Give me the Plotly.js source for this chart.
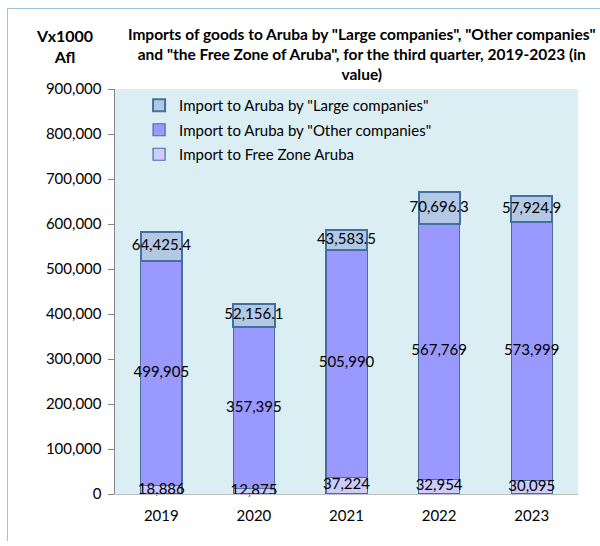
<!DOCTYPE html>
<html>
<head>
<meta charset="utf-8">
<script src="https://cdn.plot.ly/plotly-3.0.1.min.js"></script>
<style>
html,body{margin:0;padding:0;background:#fff;}
#frame{position:absolute;left:7px;top:8px;width:600px;height:532px;border-top:1.5px solid #9DC3E6;border-left:1.5px solid #9DC3E6;pointer-events:none;z-index:5;}
#chart{width:600px;height:546px;}
</style>
</head>
<body>
<div id="frame"></div>
<div id="chart"></div>
<script>
var years = ['2019', '2020', '2021', '2022', '2023'];
var freeZone = [18886, 12875, 37224, 32954, 30095];
var otherCompanies = [499905, 357395, 505990, 567769, 573999];
var largeCompanies = [64425.4, 52156.1, 43583.5, 70696.3, 57924.9];
var freeLabels = ['18,886', '12,875', '37,224', '32,954', '30,095'];
var otherLabels = ['499,905', '357,395', '505,990', '567,769', '573,999'];
var largeLabels = ['64,425.4', '52,156.1', '43,583.5', '70,696.3', '57,924.9'];

var FONT = 'Lato, "Open Sans", sans-serif';

var freeMid = freeZone.map(function(v){return v/2;});
var otherMid = otherCompanies.map(function(v,i){return freeZone[i] + v/2;});
var largeMid = largeCompanies.map(function(v,i){return freeZone[i] + otherCompanies[i] + v/2;});

var traces = [
  {type:'bar', x:years, y:freeZone, name:'Import to Free Zone Aruba', legendgroup:'c', legendrank:3,
   marker:{color:'#CCCCFF', line:{color:'#4A6E96', width:1.2}}, width:0.445, hoverinfo:'y'},
  {type:'bar', x:years, y:otherCompanies, name:'Import to Aruba by "Other companies"', legendgroup:'b', legendrank:2,
   marker:{color:'#9999FF', line:{color:'#4A6E96', width:1.2}}, width:0.445, hoverinfo:'y'},
  {type:'bar', x:years, y:largeCompanies, name:'Import to Aruba by "Large companies"', legendgroup:'a', legendrank:1,
   marker:{color:'#B3C8E4', line:{color:'#41719C', width:2}}, width:0.445, hoverinfo:'y'},
  {type:'scatter', mode:'text', x:years, y:freeMid, text:freeLabels, showlegend:false, hoverinfo:'skip',
   textfont:{family:FONT, size:15, color:'#000'}, cliponaxis:false},
  {type:'scatter', mode:'text', x:years, y:otherMid, text:otherLabels, showlegend:false, hoverinfo:'skip',
   textfont:{family:FONT, size:15, color:'#000'}, cliponaxis:false},
  {type:'scatter', mode:'text', x:years, y:largeMid, text:largeLabels, showlegend:false, hoverinfo:'skip',
   textfont:{family:FONT, size:15, color:'#000'}, cliponaxis:false}
];

var layout = {
  width:600, height:546,
  margin:{l:115, r:22, t:89, b:52},
  paper_bgcolor:'#ffffff',
  plot_bgcolor:'#DAEEF3',
  barmode:'stack',
  showlegend:true,
  font:{family:FONT, size:15, color:'#000'},
  title:{text:'<b>Imports of goods to Aruba by "Large companies", "Other companies"<br>and "the Free Zone of Aruba", for the third quarter, 2019-2023 (in<br>value)</b>',
         font:{family:FONT, size:15.5, color:'#000'}, x:0.603, xanchor:'center', y:0.927, yanchor:'top'},
  legend:{x:0.052, y:1.0, xanchor:'left', yanchor:'top', bgcolor:'rgba(0,0,0,0)',
          traceorder:'grouped', font:{family:FONT, size:15, color:'#000'}, tracegroupgap:2},
  xaxis:{type:'category', showgrid:false, showline:true, linecolor:'#BFBFBF', linewidth:1,
         ticks:'', ticklabelstandoff:8, tickfont:{family:FONT, size:15, color:'#000'}, fixedrange:true},
  yaxis:{range:[0,900000], dtick:100000, tickformat:',d', showgrid:false, zeroline:false,
         showline:true, linecolor:'#868686', linewidth:1.5, ticks:'outside', ticklen:6, tickcolor:'#868686',
         ticklabelstandoff:3, tickfont:{family:FONT, size:15, color:'#000'}, fixedrange:true},
  annotations:[
    {text:'<b>Vx1000<br>Afl</b>', xref:'paper', yref:'paper', x:-0.108, y:1.16, xanchor:'center', yanchor:'top',
     showarrow:false, font:{family:FONT, size:16, color:'#000'}, align:'center'}
  ]
};

Plotly.newPlot('chart', traces, layout, {displayModeBar:false, staticPlot:true});
</script>
</body>
</html>
